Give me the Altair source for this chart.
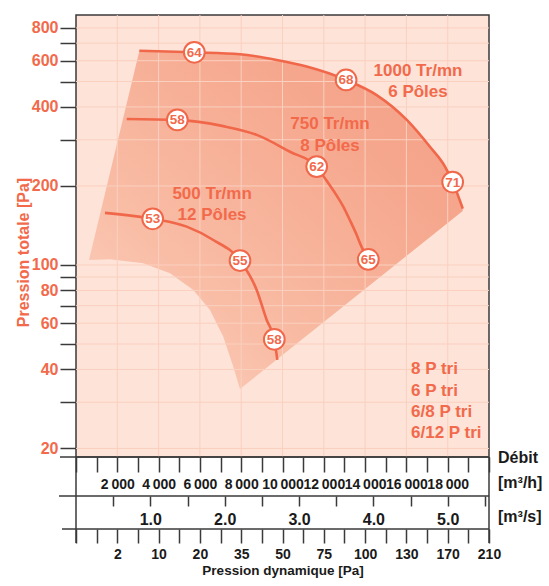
import altair as alt
import pandas as pd

# ---------------- data ----------------
# Fan curves: débit [m3/h] vs pression totale [Pa]
c1000_debit = [3070, 5730, 7940, 9720, 11170, 13080, 14560, 16020, 17140, 17870, 18240, 18730]
c1000_pt = [655, 646, 635, 604, 570, 507, 444, 357, 282, 237, 207, 164]
c750_debit = [2455, 4906, 7133, 8751, 10363, 11656, 12107, 12640, 12944, 13268, 13559, 13835, 14155]
c750_pt = [360, 357, 338, 313, 270, 237, 211, 183, 167, 148, 132, 117, 105]
c500_debit = [1404, 3714, 5361, 6649, 7942, 8750, 9235, 9603, 9748]
c500_pt = [158, 150, 140, 124.5, 104, 80.3, 61.7, 52.1, 43.5]

# Sound level markers (dB(A))
noise_speed = ["1000", "1000", "1000", "750", "750", "750", "500", "500", "500"]
noise_debit = [5730, 13080, 18240, 4906, 11656, 14155, 3714, 7942, 9603]
noise_pt = [646, 507, 207, 357, 237, 105, 150, 104, 52.1]
noise_db = [64, 68, 71, 58, 62, 65, 53, 55, 58]

# Operating zone: the 1000 Tr/mn curve, then this lower/right boundary
zone_debit = [18726, 7942, 7618, 7133, 6489, 5681, 4552, 3259, 1646, 630]
zone_pt = [160.6, 33.7, 41.0, 53.3, 67.4, 80.3, 93, 101.5, 105.1, 104.5]

# Curve annotations (anchored in data units)
speed_text = ["1000 Tr/mn", "6 Pôles", "750 Tr/mn", "8 Pôles", "500 Tr/mn", "12 Pôles"]
speed_debit = [16560, 16560, 12300, 12300, 6590, 6590]
speed_pt = [548, 456, 344, 284, 186, 155]

motor_text = ["8 P tri", "6 P tri", "6/8 P tri", "6/12 P tri"]
motor_debit = [16224, 16224, 16224, 16224]
motor_pt = [40.2, 33.1, 27.5, 22.9]

# Axis ticks / labels
pt_ticks = [20, 30, 40, 50, 60, 70, 80, 90, 100, 200, 300, 400, 500, 600, 700, 800]
pt_labeled = [20, 40, 60, 80, 100, 200, 400, 600, 800]
debit_ticks = list(range(0, 20001, 1000))
debit_labeled = [2000, 4000, 6000, 8000, 10000, 12000, 14000, 16000, 18000]
debit_grid = [2000, 4000, 6000, 8000, 10000, 12000, 14000, 16000, 18000]
ms_ticks = [1800, 3600, 5400, 7200, 9000, 10800, 12600, 14400, 16200, 18000, 19800]
ms_label_pos = [3600, 7200, 10800, 14400, 18000]
ms_labels = ["1.0", "2.0", "3.0", "4.0", "5.0"]
pa_label_pos = [2000, 4000, 6000, 8000, 10000, 12000, 14000, 16000, 18000, 20000]
pa_labels = ["2", "10", "20", "35", "50", "75", "100", "130", "170", "210"]

# ---------------- styles ----------------
FONT = "Liberation Sans"
SALMON = "#F26A4B"
LINE = "#F0674A"
DARK = "#3a3a3a"
BLACK = "#1a1a1a"
GRID = "#FAD0BF"
BG = "#FDE3D8"
W, H = 413, 442


def label_expr(positions, labels):
    pos = ",".join(str(p) for p in positions)
    labs = ",".join(["''"] + [f"'{l}'" for l in labels])
    return f"[{labs}][indexof([{pos}], datum.value) + 1]"


xscale = alt.Scale(domain=[0, 20000], nice=False, zero=False)
yscale = alt.Scale(type="log", domain=[18.56, 896], nice=False)

yaxis = alt.Axis(
    values=pt_ticks,
    labelExpr=label_expr(pt_labeled, [str(v) for v in pt_labeled]),
    orient="left", domain=False, grid=False,
    tickSize=16, tickWidth=1.5, tickColor=DARK,
    labelFontSize=16, labelFontWeight="bold", labelColor=SALMON, labelPadding=2,
    title="Pression totale [Pa]", titleFontSize=16, titleFontWeight="bold",
    titleColor=SALMON, titleX=-53, titleY=237, titleAngle=270,
    titleBaseline="middle", titleAlign="center",
)

debit_axis = alt.Axis(
    values=debit_ticks,
    labelExpr=label_expr(debit_labeled,
                         [f"{v:,}".replace(",", "\u2009") for v in debit_labeled]),
    orient="bottom", offset=0, domain=False, grid=False,
    tickSize=15, tickWidth=1.5, tickColor=DARK,
    labelFontSize=14, labelFontWeight="bold", labelColor=BLACK, labelPadding=5,
    labelOverlap=False, labelBound=False, labelFlush=False, title=None,
)

ms_axis = alt.Axis(
    values=ms_ticks,
    labelExpr=label_expr(ms_label_pos, ms_labels),
    orient="bottom", offset=39, domain=False, grid=False,
    tickSize=10, tickWidth=1.5, tickColor=DARK,
    labelFontSize=16, labelFontWeight="bold", labelColor=BLACK, labelPadding=5,
    labelOverlap=False, labelFlush=False, title=None,
)

pa_axis = alt.Axis(
    values=debit_ticks,
    labelExpr=label_expr(pa_label_pos, pa_labels),
    orient="bottom", offset=72, domain=False, grid=False,
    tickSize=14, tickWidth=1.5, tickColor=DARK,
    labelFontSize=14, labelFontWeight="bold", labelColor=BLACK, labelPadding=4,
    labelOverlap=False, labelFlush=False,
    title="Pression dynamique [Pa]", titleFontSize=13.5, titleFontWeight="bold",
    titleColor=BLACK, titleX=W / 2, titleY=41, titleBaseline="middle", titleAlign="center",
)

# ---------------- tables ----------------
zone_x = c1000_debit + zone_debit
zone_y = c1000_pt + zone_pt
zone_df = pd.DataFrame({"debit": zone_x, "pt": zone_y, "order": list(range(len(zone_x)))})

curves_df = pd.concat([
    pd.DataFrame({"speed": "1000", "debit": c1000_debit, "pt": c1000_pt, "order": range(len(c1000_debit))}),
    pd.DataFrame({"speed": "750", "debit": c750_debit, "pt": c750_pt, "order": range(len(c750_debit))}),
    pd.DataFrame({"speed": "500", "debit": c500_debit, "pt": c500_pt, "order": range(len(c500_debit))}),
], ignore_index=True)

noise_df = pd.DataFrame({"speed": noise_speed, "debit": noise_debit, "pt": noise_pt, "db": noise_db})
speed_df = pd.DataFrame({"text": speed_text, "debit": speed_debit, "pt": speed_pt})
motor_df = pd.DataFrame({"text": motor_text, "debit": motor_debit, "pt": motor_pt})
hgrid_df = pd.DataFrame({"pt": pt_ticks})
vgrid_df = pd.DataFrame({"debit": debit_grid})

# ---------------- layers ----------------
gradient = alt.LinearGradient(
    gradient="linear",
    stops=[
        alt.GradientStop(color="#FCD5C4", offset=0),
        alt.GradientStop(color="#F9BDA6", offset=0.3),
        alt.GradientStop(color="#F5A68C", offset=0.75),
        alt.GradientStop(color="#F3A086", offset=1),
    ],
    x1=0, y1=1, x2=1, y2=0,
)

zone = alt.Chart(zone_df).mark_line(
    fill=gradient, strokeOpacity=0, interpolate="linear-closed"
).encode(
    x=alt.X("debit:Q", scale=xscale, axis=debit_axis),
    y=alt.Y("pt:Q", scale=yscale, axis=yaxis),
    order="order:Q",
)

hgrid = alt.Chart(hgrid_df).mark_rule(color=GRID, strokeWidth=1).encode(
    y=alt.Y("pt:Q", scale=yscale, axis=None)
)

vgrid = alt.Chart(vgrid_df).mark_rule(color=GRID, strokeWidth=1).encode(
    x=alt.X("debit:Q", scale=xscale, axis=ms_axis)
)

curves = alt.Chart(curves_df).mark_line(
    color=LINE, strokeWidth=2.6, interpolate="monotone"
).encode(
    x=alt.X("debit:Q", scale=xscale, axis=pa_axis),
    y=alt.Y("pt:Q", scale=yscale, axis=None),
    detail="speed:N",
    order="order:Q",
)

circles = alt.Chart(noise_df).mark_circle(
    fill="white", stroke=LINE, strokeWidth=2, size=430, opacity=1
).encode(
    x=alt.X("debit:Q", scale=xscale, axis=None),
    y=alt.Y("pt:Q", scale=yscale, axis=None),
)

circle_text = alt.Chart(noise_df).mark_text(
    fontSize=13.5, fontWeight="bold", color=SALMON, align="center", baseline="middle", dy=0.5
).encode(
    x=alt.X("debit:Q", scale=xscale, axis=None),
    y=alt.Y("pt:Q", scale=yscale, axis=None),
    text="db:N",
)

speed_labels = alt.Chart(speed_df).mark_text(
    fontSize=17, fontWeight="bold", color=SALMON, align="center", baseline="middle"
).encode(
    x=alt.X("debit:Q", scale=xscale, axis=None),
    y=alt.Y("pt:Q", scale=yscale, axis=None),
    text="text:N",
)

motor_labels = alt.Chart(motor_df).mark_text(
    fontSize=17, fontWeight="bold", color=SALMON, align="left", baseline="middle"
).encode(
    x=alt.X("debit:Q", scale=xscale, axis=None),
    y=alt.Y("pt:Q", scale=yscale, axis=None),
    text="text:N",
)

# frame lines of the scale block below the plot
frame_specs = [
    (-16, W, H, H), (-17, W, H + 39, H + 39), (-14, W, H + 72, H + 72),
    (0, 0, H, H + 86), (W, W, H, H + 86),
]
frames = [
    alt.Chart(pd.DataFrame({"a": [0]})).mark_rule(color=DARK, strokeWidth=1.5).encode(
        x=alt.value(x1), x2=alt.value(x2), y=alt.value(y1), y2=alt.value(y2)
    )
    for (x1, x2, y1, y2) in frame_specs
]

unit_texts = [
    ("Débit", H + 1), ("[m³/h]", H + 26), ("[m³/s]", H + 60),
]
units = [
    alt.Chart(pd.DataFrame({"a": [0]})).mark_text(
        text=t, fontSize=16, fontWeight="bold", color=BLACK, align="left", baseline="middle"
    ).encode(x=alt.value(W + 9), y=alt.value(yy))
    for (t, yy) in unit_texts
]

chart = alt.layer(
    zone, hgrid, vgrid, curves, circles, circle_text, speed_labels, motor_labels,
    *frames, *units
).resolve_axis(
    x="independent", y="independent"
).properties(
    width=W, height=H,
    autosize=alt.AutoSizeParams(type="none"),
    padding={"left": 76, "top": 15, "right": 60, "bottom": 129},
).configure(
    font=FONT, background="white"
).configure_view(
    fill=BG, stroke=DARK, strokeWidth=1.5
)

chart.save("out.html", embed_options={"renderer": "svg", "actions": False})
